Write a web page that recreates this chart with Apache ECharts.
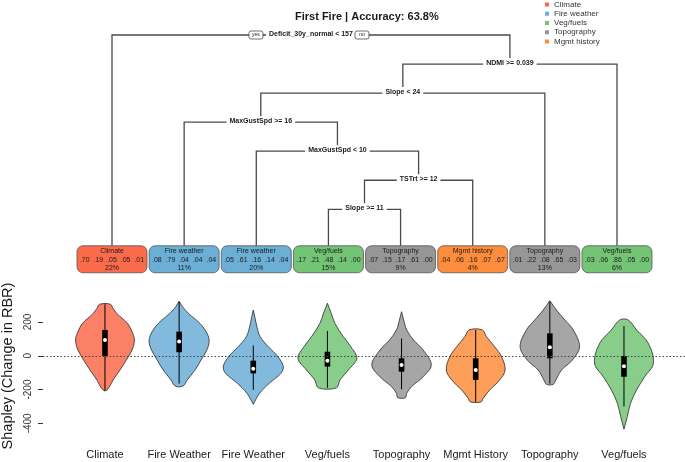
<!DOCTYPE html>
<html><head><meta charset="utf-8">
<script src="https://cdn.jsdelivr.net/npm/echarts@6/dist/echarts.min.js"></script>
<style>html,body{margin:0;padding:0;background:#fff}#c{width:685px;height:462px}</style>
</head><body><div id="c"></div>
<script>
// ---------------- DATA ----------------
const titleText = 'First Fire | Accuracy: 63.8%';
const classNames = ['Climate', 'Fire weather', 'Veg/fuels', 'Topography', 'Mgmt history'];

// Decision tree splits (left = yes branch, right = no branch)
const splitLabels = ['Deficit_30y_normal < 157', 'NDMI >= 0.039', 'Slope < 24', 'MaxGustSpd >= 16', 'MaxGustSpd < 10', 'TSTrt >= 12', 'Slope >= 11'];
const splitLeft  = ['L0', 'S2', 'S3', 'L1', 'L2', 'S6', 'L3'];
const splitRight = ['S1', 'L7', 'L6', 'S4', 'S5', 'L5', 'L4'];

// Leaves (left to right)
const leafClass = [0, 1, 1, 2, 3, 4, 3, 2];
const leafProbs = [
  [0.70, 0.19, 0.05, 0.05, 0.01],
  [0.08, 0.79, 0.04, 0.04, 0.04],
  [0.05, 0.61, 0.16, 0.14, 0.04],
  [0.17, 0.21, 0.48, 0.14, 0.00],
  [0.07, 0.15, 0.17, 0.61, 0.00],
  [0.04, 0.06, 0.16, 0.07, 0.67],
  [0.01, 0.22, 0.08, 0.65, 0.03],
  [0.03, 0.06, 0.86, 0.05, 0.00]
];
const leafPct = [22, 11, 20, 15, 9, 4, 13, 6];

// Violin plots
const violinLabels = ['Climate', 'Fire Weather', 'Fire Weather', 'Veg/fuels', 'Topography', 'Mgmt History', 'Topography', 'Veg/fuels'];
const violinClass = [0, 1, 1, 2, 3, 4, 3, 2];
// [Shapley value, relative density half-width]
const violinProfiles = [
  [[305,0.18],[280,0.27],[251,0.39],[222,0.57],[192,0.75],[143,0.9],[93,0.98],[34,0.9],[-25,0.71],[-84,0.5],[-143,0.27],[-183,0.15],[-206,0.04]],
  [[324,0.0],[291,0.11],[251,0.31],[192,0.69],[133,0.93],[84,1.0],[34,0.92],[-25,0.73],[-84,0.53],[-143,0.27],[-179,0.13]],
  [[271,0.0],[231,0.05],[172,0.12],[113,0.23],[54,0.5],[-5,0.82],[-64,1.0],[-104,0.92],[-163,0.53],[-222,0.21],[-287,0.0]],
  [[311,0.0],[251,0.13],[192,0.25],[113,0.53],[54,0.78],[-15,0.98],[-84,0.7],[-143,0.42],[-190,0.3]],
  [[261,0.0],[212,0.07],[153,0.17],[93,0.4],[34,0.72],[-54,0.99],[-124,0.72],[-183,0.33],[-222,0.17],[-248,0.13]],
  [[153,0.22],[113,0.36],[54,0.63],[-5,0.86],[-84,0.98],[-143,0.8],[-202,0.47],[-251,0.25],[-273,0.18]],
  [[326,0.0],[271,0.22],[212,0.5],[153,0.78],[54,0.99],[-25,0.75],[-84,0.39],[-143,0.2],[-169,0.11]],
  [[212,0.14],[153,0.42],[74,0.81],[-44,0.98],[-124,0.69],[-202,0.42],[-281,0.22],[-360,0.11],[-435,0.0]]
];
const whiskerLow  = [-206, -165, -202, -190, -198, -273, -165, -300];
const q1          = [-1, 21, -104, -64, -94, -143, -15, -124];
const medians     = [93, 84, -77, -29, -54, -84, 50, -62];
const q3          = [153, 143, -29, 24, -15, -15, 133, -1];
const whiskerHigh = [305, 318, 61, 147, 103, 153, 320, 176];
const yTicks = [-400, -200, 0, 200];

// ---------------- STYLE / LAYOUT ----------------
const classColors = ['#FB6A4A', '#6BAED6', '#74C476', '#969696', '#FD8D3C'];
const FONT = '"Liberation Sans", Arial, Helvetica, sans-serif';
const VIOLIN_HALF = 0.405;   // max half width in x units
const LEAF_DEPTH = 7.72;
const BOX_W = 70, BOX_H = 27;

function parseRef(r) { return { type: r[0], i: +r.slice(1) }; }
const splitX = [], splitD = [];
function layout(i, d) {
  splitD[i] = d;
  const l = parseRef(splitLeft[i]), r = parseRef(splitRight[i]);
  const xl = l.type === 'L' ? l.i + 1 : layout(l.i, d + 1);
  const xr = r.type === 'L' ? r.i + 1 : layout(r.i, d + 1);
  splitX[i] = (xl + xr) / 2;
  return splitX[i];
}
layout(0, 0);

const fmtP = p => p.toFixed(2).replace(/^0/, '');

function renderTree(params, api) {
  const kind = api.value(3);
  const i = api.value(2);
  const children = [];
  if (kind === 1) {
    const c = api.coord([i + 1, LEAF_DEPTH]);
    const cls = leafClass[i];
    children.push({
      type: 'rect',
      shape: { x: c[0] - BOX_W / 2, y: c[1] - BOX_H / 2, width: BOX_W, height: BOX_H, r: 6 },
      style: { fill: classColors[cls], stroke: '#555', lineWidth: 0.8 }
    });
    children.push({
      type: 'text',
      style: {
        text: classNames[cls] + '\n' + leafProbs[i].map(fmtP).join('  ') + '\n' + leafPct[i] + '%',
        x: c[0], y: c[1] + 0.5, align: 'center', verticalAlign: 'middle',
        font: '7px ' + FONT, lineHeight: 8.3, fill: '#1a1a1a'
      }
    });
  } else {
    const p = api.coord([splitX[i], splitD[i]]);
    const ends = [splitLeft[i], splitRight[i]].map(ref => {
      const r = parseRef(ref);
      if (r.type === 'L') {
        const c = api.coord([r.i + 1, LEAF_DEPTH]);
        return [c[0], c[1] - BOX_H / 2];
      }
      const c = api.coord([splitX[r.i], splitD[r.i]]);
      return [c[0], c[1] - 6];
    });
    children.push({
      type: 'polyline',
      shape: { points: [ends[0], [ends[0][0], p[1]], [ends[1][0], p[1]], ends[1]] },
      style: { stroke: '#4a4a4a', lineWidth: 1.3, fill: null }
    });
    children.push({
      type: 'text',
      style: {
        text: splitLabels[i], x: p[0], y: p[1] - 1, align: 'center', verticalAlign: 'middle',
        font: 'bold 7px ' + FONT, fill: '#1a1a1a', backgroundColor: '#fff', padding: [1, 3]
      }
    });
    if (i === 0) {
      [['yes', -55], ['no', 51]].forEach(([t, dx]) => {
        children.push({
          type: 'rect',
          shape: { x: p[0] + dx - 7, y: p[1] - 4, width: 14, height: 8, r: 2 },
          style: { fill: '#fff', stroke: '#333', lineWidth: 0.7 }
        });
        children.push({
          type: 'text',
          style: { text: t, x: p[0] + dx, y: p[1], align: 'center', verticalAlign: 'middle', font: '5px ' + FONT, fill: '#222' }
        });
      });
    }
  }
  return { type: 'group', children };
}

function renderViolin(params, api) {
  const xc = api.value(0);
  const idx = api.value(2);
  const color = classColors[violinClass[idx]];
  const prof = violinProfiles[idx];
  const left = prof.map(([v, w]) => api.coord([xc - w * VIOLIN_HALF, v]));
  const right = prof.map(([v, w]) => api.coord([xc + w * VIOLIN_HALF, v])).reverse();
  const pts = left.concat(right);
  const top = api.coord([xc, whiskerHigh[idx]]);
  const bot = api.coord([xc, whiskerLow[idx]]);
  const b3 = api.coord([xc, q3[idx]]);
  const b1 = api.coord([xc, q1[idx]]);
  const md = api.coord([xc, medians[idx]]);
  return {
    type: 'group',
    children: [
      { type: 'polygon', shape: { points: pts, smooth: 0.35 },
        style: { fill: color, opacity: 0.85, stroke: '#333', lineWidth: 1 } },
      { type: 'line', shape: { x1: top[0], y1: top[1], x2: bot[0], y2: bot[1] },
        style: { stroke: '#000', lineWidth: 1 } },
      { type: 'rect', shape: { x: b3[0] - 2.8, y: b3[1], width: 5.6, height: b1[1] - b3[1] },
        style: { fill: '#000' } },
      { type: 'circle', shape: { cx: md[0], cy: md[1], r: 2 }, style: { fill: '#fff' } }
    ]
  };
}

const violinSeries = classNames.map((name, c) => ({
  type: 'custom',
  name,
  xAxisIndex: 0, yAxisIndex: 0,
  itemStyle: { color: classColors[c] },
  renderItem: renderViolin,
  encode: { x: 0, y: 1 },
  data: violinClass.map((vc, k) => vc === c ? [k + 1, medians[k], k] : null).filter(d => d)
}));

const treeData = splitLabels.map((s, i) => [splitX[i], splitD[i], i, 0])
  .concat(leafClass.map((c, i) => [i + 1, LEAF_DEPTH, i, 1]));

const chart = echarts.init(document.getElementById('c'), null, { renderer: 'canvas' });
chart.setOption({
  animation: false,
  backgroundColor: '#fff',
  textStyle: { fontFamily: FONT },
  title: {
    text: titleText, left: 295, top: 11, padding: 0,
    textStyle: { fontSize: 11, fontWeight: 'bold', color: '#1a1a1a', fontFamily: FONT }
  },
  legend: {
    orient: 'vertical', left: 545, top: 0, padding: 0, itemGap: 0.25,
    itemWidth: 4, itemHeight: 4, selectedMode: false,
    data: classNames.map(n => ({ name: n, icon: 'rect' })),
    textStyle: { fontSize: 8, lineHeight: 9, color: '#333', fontFamily: FONT }
  },
  grid: [
    { left: 43, right: 0, top: 297, bottom: 27, outerBoundsMode: 'none', containLabel: false },
    { left: 75.93, width: 577.14, top: 35, height: 232.4, outerBoundsMode: 'none', containLabel: false }
  ],
  xAxis: [
    {
      type: 'value', gridIndex: 0, min: 0.164, max: 8.823,
      axisLine: { show: false }, splitLine: { show: false },
      axisTick: { show: true, length: 5, customValues: violinLabels.map((_, i) => i + 1), lineStyle: { color: '#333' } },
      axisLabel: {
        customValues: violinLabels.map((_, i) => i + 1), margin: 14,
        formatter: v => violinLabels[Math.round(v) - 1], fontSize: 11, color: '#1a1a1a', fontFamily: FONT
      }
    },
    { type: 'value', gridIndex: 1, min: 0.5, max: 8.5, show: false }
  ],
  yAxis: [
    {
      type: 'value', gridIndex: 0, min: -469, max: 348,
      name: 'Shapley (Change in RBR)', nameLocation: 'middle', nameGap: 27,
      nameTextStyle: { fontSize: 14.5, color: '#1a1a1a', fontFamily: FONT },
      axisLine: { show: false }, splitLine: { show: false },
      axisTick: { show: true, length: 5, customValues: yTicks, lineStyle: { color: '#333' } },
      axisLabel: { customValues: yTicks, rotate: 90, margin: 10, fontSize: 10, color: '#333', fontFamily: FONT }
    },
    { type: 'value', gridIndex: 1, min: 0, max: 8, inverse: true, show: false }
  ],
  series: violinSeries.concat([
    {
      type: 'line', name: 'zero', xAxisIndex: 0, yAxisIndex: 0, data: [], z: 10,
      markLine: {
        silent: true, symbol: 'none', label: { show: false }, animation: false,
        lineStyle: { type: [1.5, 2], color: '#444', width: 1.2 },
        data: [{ yAxis: 0 }]
      }
    },
    {
      type: 'custom', name: 'tree', xAxisIndex: 1, yAxisIndex: 1,
      renderItem: renderTree, encode: { x: 0, y: 1 }, data: treeData
    }
  ])
});
</script>
</body></html>
